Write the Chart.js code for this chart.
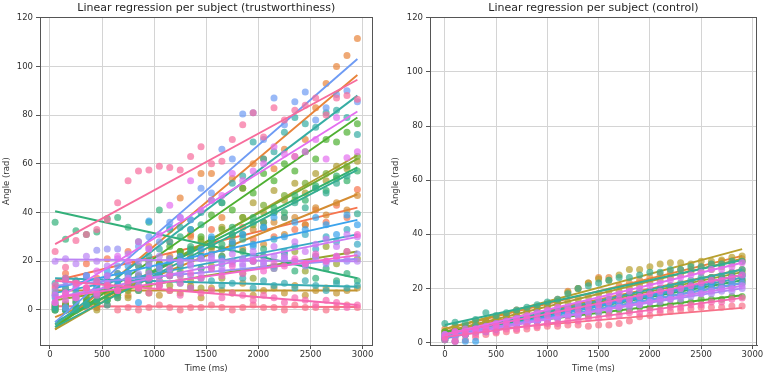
<!DOCTYPE html>
<html><head><meta charset="utf-8">
<script src="https://cdn.jsdelivr.net/npm/chart.js@4.4.0/dist/chart.umd.min.js"></script>
<style>
html,body{margin:0;padding:0;background:#fff;width:767px;height:377px;overflow:hidden}
.box{position:absolute;top:0;height:377px}
#b1{left:0;width:380px}
#b2{left:385px;width:382px}
</style></head><body>
<div class="box" id="b1"><canvas id="c1"></canvas></div>
<div class="box" id="b2"><canvas id="c2"></canvas></div>
<script>
// ---- axis ticks ----
const xTicks = [0, 500, 1000, 1500, 2000, 2500, 3000];
const yTicks = [0, 20, 40, 60, 80, 100, 120];

// ---- trustworthiness panel ----
const trustTimes = [50,150,250,350,450,550,650,750,850,950,1050,1150,1250,1350,1450,1550,1650,1750,1850,1950,2050,2150,2250,2350,2450,2550,2650,2750,2850,2950];
const trustValues = [
 [1,2,0,1,1,2,0,1,0,1,2,1,0,1,1,2,1,0,1,2,1,1,0,2,1,1,0,1,2,1],
 [9,15,12,19,13,21,15,24,18,26,19,28,22,31,24,33,25,27,34,29,36,30,38,33,35,41,36,43,38,49.5],
 [2,0,5,3,1,8,10,6,14,12,18,22,46,30,56,56,38,54,50,60,62,58,66,63,70,83,93,100,104.5,111.5],
 [1,3,0,5,2,8,6,11,9,15,12,18,14,22,17,25,22,28,25,33,27,36,31,38,35,42,39,44,41,47],
 [7,9,6,8,10,7,5,9,8,11,6,8,7,10,5,9,8,7,11,6,8,9,7,10,6,8,9,7,8,9],
 [0,2,1,4,0,6,8,5,13,10,19,16,24,21,29,26,34,30,38,44,40,49,45,52,48,56,53,59,58,61],
 [2,6,4,8,3,10,6,12,9,7,14,10,16,12,9,18,13,20,15,13,22,17,19,24,16,22,26,19,24,21],
 [1,0,3,2,6,4,10,8,14,12,19,16,24,21,28,26,33,31,38,35,43,40,47,45,52,50,56,54,59,63],
 [0,2,1,5,3,9,7,14,12,20,18,26,24,33,30,39,44,41,50,48,56,53,60,57,65,62,70,69,73,76.5],
 [2,0,1,3,6,4,9,12,10,16,14,21,18,25,22,29,27,34,31,38,36,42,40,47,45,51,49,55,53,57],
 [36,29,32.5,31,32,37.5,38,34,28,36,41,33,30,26,35,29,22,27,24,20,25,18,23,16,19,13,17,12,15,12],
 [0,1,0,2,4,2,5,10,8,12,16,14,19,24,22,27,25,31,29,36,34,40,38,44,42,50,48,52,55,39.5],
 [1,0,3,2,6,9,12,15,18,22,25,28,34,37,40,45,44,52,55,69,62,65,73,79,76.5,75,81,82,79,72],
 [11,13,12,14,10,12,15,11,13,12,10,14,11,9,13,12,10,11,13,9,12,10,11,9,12,10,8,11,9,10],
 [5,9,7,12,9,14,10,15,12,18,14,20,15,21,17,23,19,25,21,27,22,29,24,26,31,25,30,28,33,27],
 [6,12,9,14,11,16,12,18,3,36.5,18,34,22,33,25,30,21,28,31,26,34,38,30,36,33,38,35,31,39,35],
 [3,1,5,8,12,10,18,15,26,30,28,36,38,37,50,48,66,62,80.5,81,70,87,76,85.5,89.5,78,83,88.5,90,85.5],
 [8,12,10,14,24.5,25,25,13,15,25,17,15,19,14,21,17,16,20,18,22,19,17,21,20,18,22,19,21,20,23],
 [20,21,19,22,20,18,21,23,20,19,22,21,20,18,21,22,20,19,21,20,18,22,21,20,19,21,20,22,21,20],
 [3,7,5,9,7,11,8,13,10,15,12,17,14,19,15,21,17,23,19,24,20,26,22,28,24,27,29,26,31,30],
 [6,4,11,9,16,14,22,20,28,25,31,43,38,53,41,45,47,56,53,57,60,67,64,63,65,70,62,79,62.5,65],
 [3,7,5,9,6,10,8,12,9,13,10,14,11,15,13,17,14,18,15,20,16,19,18,21,19,23,20,22,24,31],
 [10,13,11,9,12,10,8,11,9,7,10,8,6,9,7,8,5,7,6,4,6,5,3,5,4,2,4,3,1,2],
 [24,17.5,28.5,31,33,37,44,53,57,57.5,59,58.5,57.5,63,67,60,61,70,76,81,71,83,78,82,84,87,80,87,88,86.5]
];
const trustLineStart = [1.5,12,-8,-3,8,-8,4,-6,-7,-5,40.5,-7,-6,13,7,9,-5,10,20.7,5,4,5,12,27];
const trustLineEnd   = [1.2,42,96.5,47.5,8,63.5,24,62,79,58.5,13,57.5,88,9.5,31,37,103,21,20,30,81.5,22.5,2,94.5];
const trustColors = ['#f77189','#f7754f','#e8843a','#d58c32','#c29431','#ae9d31','#97a431','#77ab31','#4eb032','#33b068','#33b07a','#34ae91','#36ada4','#37abb2','#38a9c5','#3ba3ec','#6e9bf4','#9590f4','#bb83f4','#cc7af4','#e46ff0','#f565cc','#f668b0','#f76c9c'];

// ---- control panel ----
const controlTimes = [0,100,200,300,400,500,600,700,800,900,1000,1100,1200,1300,1400,1500,1600,1700,1800,1900,2000,2100,2200,2300,2400,2500,2600,2700,2800,2900];
const controlValues = [
 [2,0.5,1,2,3,3.5,4,4.5,5,5.5,6,6,6.5,6.5,6,6.5,6.5,7,8,9.5,10,11,11.5,12,12.5,13,13,13,13.5,13.5],
 [4,2,5,4,6,5,8,7,9,8,11,10,12,11,14,13,15,14,17,16,18,17,20,19,21,20,23,22,24,23],
 [5,6,6,8,8,9,10,12,12,13,14,16,19,20,22,24,24,21,22,23,24,25,26,27,27,28,29,30,30,31],
 [3,5,4,6,7,7,9,9,10,11,11,12,13,14,14,15,16,17,17,18,19,20,21,21,22,23,24,24,26,27],
 [4,6,5,7,8,9,10,11,12,13,14,15,18.5,20,22,23.5,23,25,27,27,28,29,29.5,29.5,29,30,30,30.5,31.5,32],
 [3,5,6,7,8,8,10,11,11,12,13,14,15,16,17,18,19,19,20,21,22,23,24,25,26,26,27,28,29,30],
 [2,4,4,5,6,7,8,8,9,10,11,12,12,13,14,15,15,16,17,18,19,19,20,21,22,23,24,24,25,26],
 [1,3,3,4,5,5,6,7,7,8,9,10,10,11,12,12,13,14,14,15,16,16,17,18,19,19,20,21,21,22],
 [4,4,5,5,6,6,7,7,8,8,9,9,10,10,10,11,11,12,12,13,13,14,14,15,15,16,16,16,17,17],
 [2,4,4,5,5,6,7,8,8,9,9,10,11,12,12,13,14,14,15,16,16,17,18,19,19,20,21,21,22,23],
 [1,3,3,4,5,6,6,7,8,9,9,10,11,12,13,13,14,15,16,17,17,18,19,20,21,21,22,23,24,25],
 [7,7.5,7,8.5,11,10,11,12,13,14,15,16,18,20,21,22,23,24,24,25,26,26,27,27,28,28,29,29,30,30],
 [3,4,4,6,6,7,8,9,9,11,11,12,13,14,14,15,16,17,18,19,19,20,21,22,23,24,24,25,26,27],
 [2,3,3,5,5,6,7,7,8,9,10,10,11,12,13,13,14,15,16,17,17,18,19,20,20,21,22,23,23,24],
 [1,0.5,0.5,0.5,4,5,6,7,8,8,9,10,11,11,12,13,14,15,16,16,17,18,19,20,21,21,22,23,24,25],
 [2,3,3,4,5,5,6,7,8,8,9,10,10,11,12,13,13,14,15,15,16,17,18,18,19,20,20,21,22,22],
 [3,2,4,4,5,5,6,7,7,8,8,9,10,10,11,11,12,13,13,14,15,15,16,16,17,18,18,19,19,20],
 [2,0.5,3,4,4,5,6,6,7,8,8,9,10,10,11,12,12,13,14,14,15,16,16,17,18,18,19,20,20,21],
 [3,4,5,5,6,7,8,9,10,11,12,13,13,14,15,16,17,18,19,20,21,22,23,24,25,26,27,27,28,29.5],
 [2,4,4,5,5,6,7,8,9,9,10,11,12,12,13,14,15,16,16,17,18,19,19,20,21,22,23,23,24,25],
 [1,0.5,3,3,4,4,5,5,6,6,7,7,8,8,9,9,10,10,11,11,12,12,13,13,14,14,15,15,16,16.5]
];
const controlLineStart = [3.5,3,5,4,5,4,3,2,4,3,2,6.5,3,2,1.5,2,3,2,3,3,2];
const controlLineEnd   = [12.8,24,32,27,34.5,31,26,22,17.5,23,25,30.5,27,24,25,22,20,21,29.5,25,16.5];
const controlColors = ['#f77189','#f7754f','#e8843a','#d58c32','#b8a02e','#ae9d31','#97a431','#77ab31','#4eb032','#33b068','#33b07a','#34ae91','#36ada4','#38a9c5','#3ba3ec','#6e9bf4','#a98bf4','#cc7af4','#e46ff0','#f565cc','#f668b0'];

Chart.defaults.font.family = "'DejaVu Sans', sans-serif";
Chart.defaults.color = '#333';

function rgba(hex, a) {
  const n = parseInt(hex.slice(1), 16);
  return `rgba(${(n >> 16) & 255},${(n >> 8) & 255},${n & 255},${a})`;
}

const framePlugin = {
  id: 'frame',
  afterDraw(chart) {
    const a = chart.chartArea, c = chart.ctx;
    c.save();
    c.strokeStyle = '#555';
    c.lineWidth = 1;
    c.strokeRect(Math.round(a.left) + 0.5, Math.round(a.top) + 0.5, Math.round(a.right - a.left) - 1, Math.round(a.bottom - a.top));
    c.restore();
  }
};

function makeChart(id, cfg) {
  const datasets = [];
  const last = cfg.times.length - 1;
  cfg.values.forEach((vals, k) => {
    const col = cfg.colors[k];
    datasets.push({
      data: cfg.times.map((t, i) => ({ x: t, y: vals[i] })),
      showLine: false,
      backgroundColor: rgba(col, 0.7),
      borderWidth: 0,
      pointRadius: 3.5,
      order: -(2 * k)
    });
    datasets.push({
      data: [{ x: cfg.times[0], y: cfg.starts[k] }, { x: cfg.times[last], y: cfg.ends[k] }],
      showLine: true,
      borderColor: col,
      borderWidth: 1.9,
      pointRadius: 0,
      order: -(2 * k + 1)
    });
  });
  return new Chart(document.getElementById(id), {
    type: 'scatter',
    data: { datasets },
    plugins: [framePlugin],
    options: {
      responsive: true,
      maintainAspectRatio: false,
      animation: false,
      events: [],
      layout: { padding: { left: 0, right: cfg.padRight, top: 0, bottom: 0 } },
      plugins: {
        legend: { display: false },
        tooltip: { enabled: false },
        title: {
          display: true, text: cfg.title, fullSize: false,
          font: { size: 11, weight: 'normal' }, color: '#262626',
          padding: { top: 2, bottom: 2 }
        }
      },
      scales: {
        x: {
          type: 'linear', min: cfg.xMin, max: cfg.xMax,
          afterBuildTicks: s => { s.ticks = xTicks.map(v => ({ value: v })); },
          afterFit: s => { s.height = 32; },
          ticks: { font: { size: 8.5 }, color: '#333', padding: 1, maxRotation: 0, autoSkip: false, callback: v => String(v) },
          grid: { color: '#d4d4d4', tickLength: 4, tickColor: '#555', lineWidth: 1 },
          border: { color: '#555', width: 1 },
          title: { display: true, text: 'Time (ms)', font: { size: 8.5 }, color: '#333', padding: { top: 0, bottom: 3 } }
        },
        y: {
          type: 'linear', min: cfg.yMin, max: cfg.yMax,
          afterBuildTicks: s => { s.ticks = yTicks.map(v => ({ value: v })); },
          afterFit: s => { s.width = cfg.yWidth; },
          ticks: { font: { size: 8.5 }, color: '#333', padding: 3, autoSkip: false, callback: v => String(v) },
          grid: { color: '#d4d4d4', tickLength: 4, tickColor: '#555', lineWidth: 1 },
          border: { color: '#555', width: 1 },
          title: { display: true, text: 'Angle (rad)', font: { size: 8.5 }, color: '#333', padding: { top: cfg.yTitlePad, bottom: 0 } }
        }
      }
    }
  });
}

makeChart('c1', {
  title: 'Linear regression per subject (trustworthiness)',
  times: trustTimes, values: trustValues, starts: trustLineStart, ends: trustLineEnd, colors: trustColors,
  xMin: -95, xMax: 3095, yMin: -14.4, yMax: 120.2, yWidth: 40, padRight: 7.5, yTitlePad: 2
});
makeChart('c2', {
  title: 'Linear regression per subject (control)',
  times: controlTimes, values: controlValues, starts: controlLineStart, ends: controlLineEnd, colors: controlColors,
  xMin: -145, xMax: 3045, yMin: -0.9, yMax: 120.2, yWidth: 45, padRight: 10, yTitlePad: 6
});
</script>
</body></html>
